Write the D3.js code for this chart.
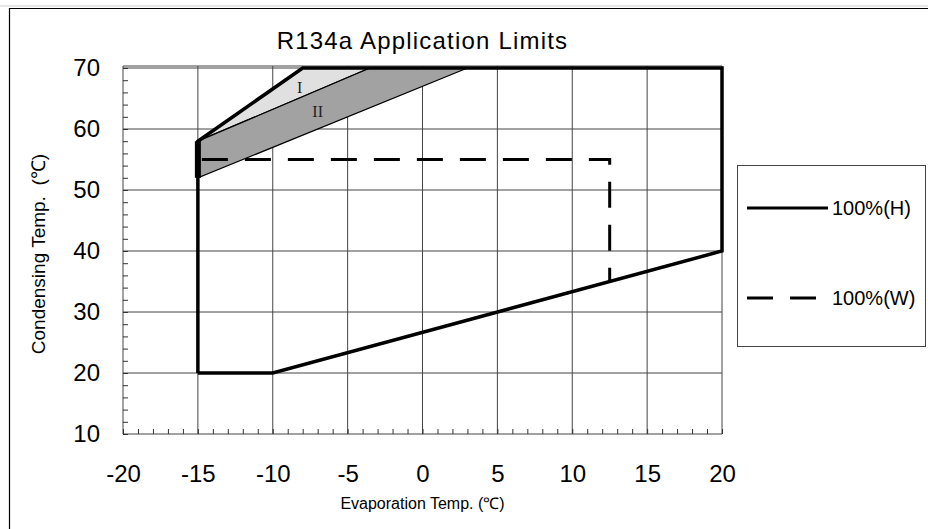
<!DOCTYPE html>
<html>
<head>
<meta charset="utf-8">
<script src="https://cdn.jsdelivr.net/npm/d3@7"></script>
<style>
  body { margin: 0; background: #fff; }
  svg { display: block; font-family: Arial, "Liberation Sans", sans-serif; }
</style>
</head>
<body>
<div id="chart"></div>
<script>
const width = 928;
const height = 529;

// data
const xTicks = [-20, -15, -10, -5, 0, 5, 10, 15, 20];
const yTicks = [10, 20, 30, 40, 50, 60, 70];
const limitH = [[-15, 20], [-10, 20], [20, 40], [20, 70], [-8, 70], [-15, 58], [-15, 20]];
const limitW = [[-15, 55], [12.5, 55], [12.5, 35]];
const zoneI = [[-15, 58], [-8, 70], [-3.5, 70]];
const zoneII = [[-15, 58], [-3.5, 70], [3, 70], [-15, 52]];
const zoneEdge = [[-15, 52], [-15, 58]];
const zoneLabels = [{ text: "I", x: -8.2, y: 66.5 }, { text: "II", x: -7, y: 62.5 }];
const legendItems = [{ name: "100%(H)", dash: null }, { name: "100%(W)", dash: "26,17" }];

const x = d3.scaleLinear().domain([-20, 20]).range([123, 722]);
const y = d3.scaleLinear().domain([10, 70]).range([434, 68]);

const svg = d3.select("#chart")
    .append("svg")
    .attr("width", width)
    .attr("height", height);

// sheet frame
svg.append("line")
    .attr("x1", 0).attr("x2", width).attr("y1", 6).attr("y2", 6)
    .attr("stroke", "#ccc");
svg.append("path")
    .attr("d", `M9.5,${height}V8.5H${width}`)
    .attr("fill", "none")
    .attr("stroke", "#000")
    .attr("stroke-width", 1.2);

// grid
const grid = svg.append("g").attr("stroke", "#444").attr("stroke-width", 1);
grid.selectAll(".vx")
    .data(xTicks)
    .enter()
    .append("line")
    .attr("x1", d => x(d)).attr("x2", d => x(d))
    .attr("y1", y(10)).attr("y2", y(70) - 2);
grid.selectAll(".hy")
    .data(yTicks)
    .enter()
    .append("line")
    .attr("x1", x(-20)).attr("x2", x(20))
    .attr("y1", d => y(d)).attr("y2", d => y(d));
grid.append("line")
    .attr("x1", x(-20)).attr("x2", x(20))
    .attr("y1", y(70) - 2).attr("y2", y(70) - 2);

// minor ticks
svg.append("g")
    .attr("transform", `translate(0,${y(10)})`)
    .call(d3.axisBottom(x).tickValues(d3.range(-20, 21, 1)).tickSize(-5).tickFormat(""))
    .call(g => g.select(".domain").remove())
    .selectAll("line").attr("stroke", "#333");
svg.append("g")
    .attr("transform", `translate(${x(-20)},0)`)
    .call(d3.axisLeft(y).tickValues(d3.range(10, 71, 2)).tickSize(-5).tickFormat(""))
    .call(g => g.select(".domain").remove())
    .selectAll("line").attr("stroke", "#333");

// tick labels
svg.append("g")
    .attr("transform", `translate(0,${y(10)})`)
    .call(d3.axisBottom(x).tickValues(xTicks).tickSize(0).tickPadding(31).tickFormat(d => String(d)))
    .call(g => g.select(".domain").remove())
    .selectAll("text")
    .attr("font-size", 24)
    .attr("font-family", "Arial, 'Liberation Sans', sans-serif")
    .attr("fill", "#000");
svg.append("g")
    .attr("transform", `translate(${x(-20)},0)`)
    .call(d3.axisLeft(y).tickValues(yTicks).tickSize(0).tickPadding(23).tickFormat(d => String(d)))
    .call(g => g.select(".domain").remove())
    .selectAll("text")
    .attr("font-size", 24)
    .attr("font-family", "Arial, 'Liberation Sans', sans-serif")
    .attr("fill", "#000");

const line = d3.line().x(d => x(d[0])).y(d => y(d[1]));

// zones
svg.append("path")
    .attr("d", line(zoneI) + "Z")
    .attr("fill", "#e0e0e0")
    .attr("stroke", "#000")
    .attr("stroke-width", 1.3);
svg.append("path")
    .attr("d", line(zoneII) + "Z")
    .attr("fill", "#a2a2a2")
    .attr("stroke", "#000")
    .attr("stroke-width", 1.3);

// 100%(H) limits
svg.append("path")
    .attr("d", line(limitH))
    .attr("fill", "none")
    .attr("stroke", "#000")
    .attr("stroke-width", 3.5)
    .attr("stroke-linejoin", "miter");
svg.append("path")
    .attr("d", line(zoneEdge))
    .attr("stroke", "#000")
    .attr("stroke-width", 6);

// 100%(W) limits
svg.append("path")
    .attr("d", line(limitW))
    .attr("fill", "none")
    .attr("stroke", "#000")
    .attr("stroke-width", 3)
    .attr("stroke-dasharray", "26,17")
    .attr("stroke-dashoffset", -4);

svg.selectAll(".zone-label")
    .data(zoneLabels)
    .enter()
    .append("text")
    .attr("x", d => x(d.x))
    .attr("y", d => y(d.y))
    .attr("text-anchor", "middle")
    .attr("dominant-baseline", "middle")
    .attr("font-family", "'Liberation Serif', 'DejaVu Serif', serif")
    .attr("font-size", 16)
    .attr("fill", "#222")
    .text(d => d.text);

// titles
svg.append("text")
    .attr("x", x(0))
    .attr("y", 49)
    .attr("text-anchor", "middle")
    .attr("font-size", 24)
    .attr("letter-spacing", 1.2)
    .text("R134a Application Limits");
svg.append("text")
    .attr("x", x(0))
    .attr("y", 509)
    .attr("text-anchor", "middle")
    .attr("font-size", 16)
    .text("Evaporation Temp. (℃)");
svg.append("text")
    .attr("transform", `translate(45,${y(39.5)}) rotate(-90)`)
    .attr("text-anchor", "middle")
    .attr("font-size", 19)
    .style("white-space", "pre")
    .text("Condensing Temp.  (℃)");

// legend
const legend = svg.append("g").attr("transform", "translate(737,165)");
legend.append("rect")
    .attr("x", 0.5).attr("y", 0.5)
    .attr("width", 188).attr("height", 181)
    .attr("fill", "#fff")
    .attr("stroke", "#444");
const item = legend.selectAll(".item")
    .data(legendItems)
    .enter()
    .append("g")
    .attr("transform", (d, i) => `translate(0,${43 + i * 90})`);
item.append("line")
    .attr("x1", 10).attr("x2", d => d.dash ? 80 : 91)
    .attr("stroke", "#000")
    .attr("stroke-width", 3)
    .attr("stroke-dasharray", d => d.dash);
item.append("text")
    .attr("x", 95)
    .attr("dy", "0.35em")
    .attr("font-size", 20)
    .text(d => d.name);
</script>
</body>
</html>
